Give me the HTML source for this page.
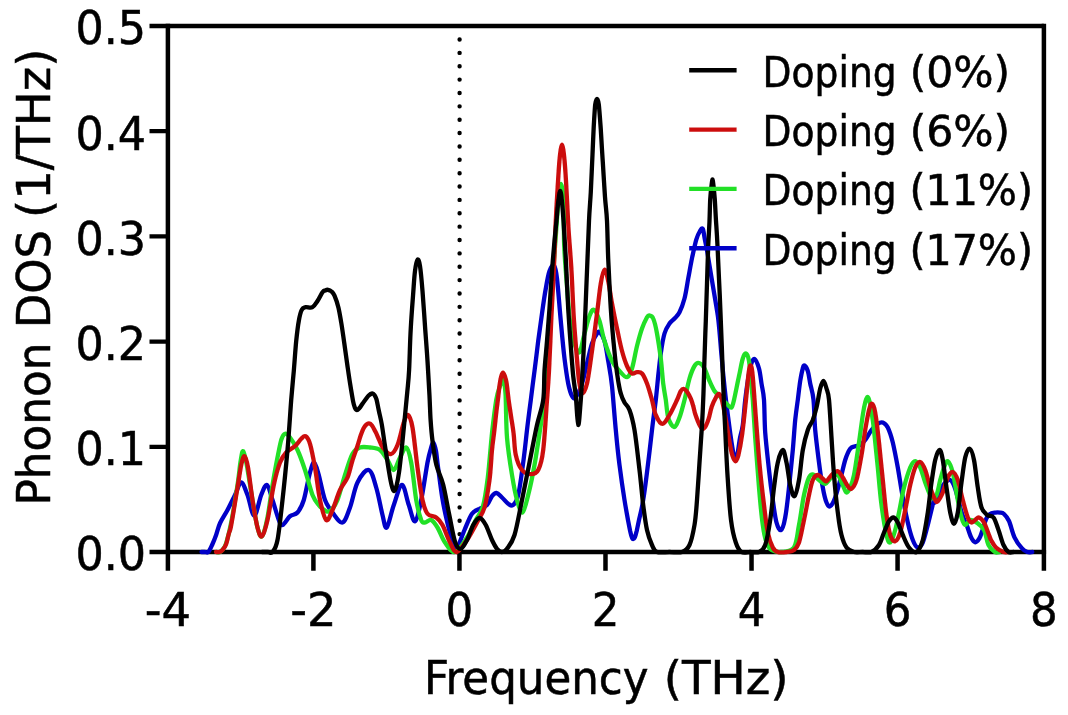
<!DOCTYPE html>
<html lang="en"><head><meta charset="utf-8"><title>Phonon DOS</title>
<style>html,body{margin:0;padding:0;background:#fff}body{width:1068px;height:715px;overflow:hidden}svg{display:block}text{fill:#000;stroke:#000;stroke-width:0.5px}</style></head><body>
<svg width="1068" height="715" viewBox="0 0 1068 715" font-family="'DejaVu Sans Condensed', 'DejaVu Sans', 'Liberation Sans', sans-serif" font-stretch="condensed">
<defs><filter id="soft" x="0" y="0" width="1068" height="715" filterUnits="userSpaceOnUse"><feGaussianBlur stdDeviation="0.45"/></filter></defs>
<rect width="1068" height="715" fill="#fff"/>
<g filter="url(#soft)">
<line x1="459.6" y1="39.5" x2="459.6" y2="552.00" stroke="#000" stroke-width="4.4" stroke-dasharray="0.01 13.357" stroke-linecap="round"/>
<path d="M149.5,26.0H1043.9M149.5,552.0H1046.1" fill="none" stroke="#000" stroke-width="4.3"/>
<path d="M167.9,23.85V570.7M1043.9,23.85V570.7" fill="none" stroke="#000" stroke-width="4.5"/>
<path d="M149.5,446.80H167.9M149.5,341.60H167.9M149.5,236.40H167.9M149.5,131.20H167.9" stroke="#000" stroke-width="4.3" fill="none"/>
<path d="M313.41,552.0V570.7M459.45,552.0V570.7M605.49,552.0V570.7M751.53,552.0V570.7M897.57,552.0V570.7" stroke="#000" stroke-width="4.5" fill="none"/>
<path d="M201.5,552.0C202.1,552.0 203.8,552.0 205.0,552.0C206.2,552.0 207.2,553.2 208.4,552.0C209.6,550.8 211.0,547.4 212.3,544.5C213.6,541.6 214.9,538.3 216.2,534.7C217.5,531.1 218.2,527.1 220.1,523.0C222.0,518.9 225.0,514.7 227.5,510.0C230.0,505.3 232.7,499.6 235.0,495.0C237.3,490.4 239.2,482.5 241.2,482.5C243.3,482.5 245.3,489.5 247.5,495.0C249.7,500.5 252.0,515.8 254.2,515.8C256.5,515.8 259.1,500.1 261.2,495.0C263.4,489.9 265.1,484.2 267.0,485.0C268.9,485.8 270.5,494.2 272.5,500.0C274.5,505.8 277.1,515.8 278.8,520.0C280.4,524.2 280.6,525.6 282.5,525.0C284.4,524.4 287.5,518.3 290.0,516.2C292.5,514.2 295.2,515.2 297.5,512.5C299.8,509.8 301.7,506.7 303.8,500.0C305.8,493.3 308.2,478.8 310.0,472.5C311.8,466.2 312.8,462.1 314.2,462.5C315.7,462.9 317.0,468.8 318.8,475.0C320.5,481.2 322.7,493.8 325.0,500.0C327.3,506.2 329.6,508.8 332.5,512.5C335.4,516.2 339.6,523.3 342.5,522.5C345.4,521.7 347.5,514.2 350.0,507.5C352.5,500.8 354.4,488.8 357.5,482.5C360.6,476.2 365.6,469.2 368.8,470.0C371.9,470.8 374.0,480.0 376.2,487.5C378.5,495.0 380.8,508.3 382.5,515.0C384.2,521.7 384.9,529.2 386.8,527.5C388.6,525.8 391.2,512.1 393.8,505.0C396.3,497.9 399.5,485.0 402.0,485.0C404.5,485.0 406.6,499.0 408.8,505.0C410.9,511.0 412.9,522.1 415.0,521.2C417.1,520.4 419.2,509.8 421.2,500.0C423.3,490.2 425.9,471.0 427.5,462.5C429.1,454.0 429.8,452.1 430.8,448.8C431.8,445.4 432.6,442.2 433.5,442.6C434.4,443.0 435.2,446.9 436.0,451.0C436.8,455.1 436.9,459.2 438.0,467.0C439.1,474.8 440.8,488.8 442.3,498.0C443.8,507.2 445.4,514.5 447.2,522.0C449.0,529.5 451.4,538.7 453.0,543.0C454.6,547.3 455.1,550.2 457.0,548.0C458.9,545.8 462.0,535.7 464.5,530.0C467.0,524.3 469.5,517.3 472.0,513.8C474.5,510.2 477.0,510.2 479.5,508.8C482.0,507.3 484.9,507.1 487.0,505.0C489.1,502.9 490.4,498.2 492.0,496.2C493.6,494.2 494.8,492.8 496.5,493.0C498.2,493.2 500.0,495.7 502.0,497.5C504.0,499.3 506.4,502.5 508.2,503.8C510.1,505.0 511.6,506.5 513.2,505.0C514.9,503.5 516.6,502.1 518.2,495.0C519.9,487.9 521.8,473.3 523.2,462.5C524.7,451.7 525.8,440.4 527.0,430.0C528.2,419.6 529.5,409.8 530.8,400.0C532.0,390.2 533.2,380.8 534.5,371.0C535.8,361.2 537.0,350.6 538.2,341.0C539.5,331.4 540.8,322.2 542.0,313.5C543.2,304.8 544.5,295.6 545.8,288.5C547.0,281.4 548.1,274.8 549.5,271.0C550.9,267.2 552.8,264.2 554.0,265.5C555.2,266.8 555.9,269.2 557.0,278.5C558.1,287.8 559.5,307.7 560.8,321.0C562.0,334.3 563.2,348.1 564.5,358.5C565.8,368.9 567.0,377.2 568.2,383.5C569.5,389.8 570.8,393.7 572.0,396.0C573.2,398.3 574.1,399.3 575.8,397.2C577.4,395.2 580.1,389.1 582.0,383.5C583.9,377.9 585.3,370.2 587.0,363.5C588.7,356.8 590.3,348.5 592.0,343.5C593.7,338.5 595.7,335.4 597.0,333.5C598.3,331.6 598.8,331.0 600.0,332.2C601.2,333.5 603.1,336.2 604.5,341.0C605.9,345.8 607.0,353.5 608.2,361.0C609.5,368.5 610.8,374.5 612.0,386.0C613.2,397.5 614.5,416.8 615.8,430.0C617.0,443.2 618.0,453.3 619.5,465.0C621.0,476.7 623.0,490.6 624.5,500.0C626.0,509.4 627.3,516.0 628.2,521.2C629.2,526.5 629.7,528.6 630.2,531.2C630.8,533.9 631.2,535.7 631.8,537.0C632.2,538.3 632.7,539.0 633.2,539.0C633.8,539.0 634.4,538.4 635.0,537.0C635.6,535.6 636.1,533.3 636.8,530.5C637.4,527.7 637.9,525.1 639.0,520.0C640.1,514.9 641.7,509.6 643.2,500.0C644.8,490.4 646.8,474.2 648.2,462.5C649.7,450.8 650.8,440.4 652.0,430.0C653.2,419.6 654.7,409.0 655.8,400.0C656.8,391.0 657.4,383.8 658.2,376.0C659.1,368.2 659.7,360.6 660.8,353.5C661.8,346.4 663.0,338.5 664.5,333.5C666.0,328.5 667.8,326.0 669.5,323.5C671.2,321.0 672.8,320.4 674.5,318.5C676.2,316.6 677.8,315.6 679.5,312.2C681.2,308.9 683.0,304.1 684.5,298.5C686.0,292.9 687.0,285.4 688.2,278.5C689.5,271.6 690.9,263.7 692.2,257.2C693.6,250.8 695.0,244.1 696.2,239.8C697.5,235.4 698.9,232.8 700.0,231.0C701.1,229.2 702.0,227.5 702.8,228.8C703.5,230.0 704.0,234.7 704.7,238.5C705.4,242.3 706.4,246.9 707.2,251.5C708.0,256.1 708.7,260.6 709.6,266.0C710.5,271.4 711.5,277.7 712.5,283.6C713.5,289.5 714.6,295.7 715.5,301.3C716.4,306.9 717.3,311.4 718.0,317.0C718.7,322.6 719.3,329.2 719.8,335.0C720.3,340.8 720.7,345.8 721.2,352.0C721.7,358.2 722.3,364.7 723.0,372.0C723.7,379.3 724.6,388.0 725.5,396.0C726.4,404.0 727.5,412.3 728.5,420.0C729.5,427.7 730.6,436.3 731.5,442.0C732.4,447.7 732.9,451.2 733.6,454.0C734.3,456.8 734.9,458.5 735.5,458.5C736.1,458.5 736.8,457.4 737.5,454.0C738.2,450.6 739.1,442.8 740.0,438.0C740.9,433.2 741.9,431.3 742.8,425.0C743.6,418.7 744.4,407.3 745.2,400.0C746.1,392.7 746.8,386.9 747.8,381.0C748.7,375.1 749.9,368.4 751.0,364.8C752.1,361.1 753.2,358.4 754.5,359.0C755.8,359.6 757.8,364.4 759.0,368.5C760.2,372.6 760.7,378.3 761.5,383.5C762.3,388.7 763.4,391.6 764.0,399.8C764.6,407.9 764.4,420.8 765.2,432.5C766.1,444.2 767.8,458.8 769.0,470.0C770.2,481.2 771.5,491.2 772.8,500.0C774.0,508.8 775.1,517.5 776.5,522.5C777.9,527.5 779.5,530.8 781.0,530.0C782.5,529.2 783.9,524.6 785.2,517.5C786.6,510.4 787.8,498.8 789.0,487.5C790.2,476.2 791.7,461.2 792.8,450.0C793.8,438.8 794.4,428.3 795.2,420.0C796.1,411.7 796.9,406.5 797.8,400.0C798.6,393.5 799.4,386.2 800.2,381.0C801.1,375.8 802.0,371.1 802.8,368.5C803.5,365.9 803.7,365.1 804.5,365.5C805.3,365.9 806.8,368.0 807.8,371.0C808.7,374.0 809.3,378.7 810.2,383.5C811.2,388.3 812.7,392.0 813.5,399.8C814.3,407.5 814.3,419.5 815.2,430.0C816.2,440.5 817.8,452.9 819.0,462.5C820.2,472.1 821.5,480.8 822.8,487.5C824.0,494.2 825.2,499.4 826.5,502.5C827.8,505.6 828.8,507.1 830.2,506.2C831.7,505.4 833.6,501.9 835.2,497.5C836.9,493.1 838.6,486.2 840.2,480.0C841.9,473.8 843.6,465.2 845.2,460.0C846.9,454.8 848.6,451.0 850.2,448.8C851.9,446.5 853.6,446.9 855.2,446.2C856.9,445.6 858.6,446.0 860.2,445.0C861.9,444.0 863.4,442.5 865.2,440.0C867.1,437.5 869.4,432.7 871.5,430.0C873.6,427.3 875.9,425.0 877.8,423.8C879.6,422.5 881.1,421.9 882.8,422.5C884.4,423.1 886.1,424.2 887.8,427.5C889.4,430.8 891.1,435.8 892.8,442.5C894.4,449.2 896.1,458.3 897.8,467.5C899.4,476.7 901.1,488.3 902.8,497.5C904.4,506.7 906.1,515.4 907.8,522.5C909.4,529.6 911.1,535.8 912.8,540.0C914.4,544.2 916.1,547.1 917.8,547.5C919.4,547.9 921.1,546.2 922.8,542.5C924.4,538.8 925.9,532.1 927.8,525.0C929.6,517.9 932.9,503.7 934.0,500.0C935.1,496.3 933.5,504.4 934.5,502.7C935.5,501.0 938.5,493.0 940.0,490.0C941.5,487.0 942.3,486.0 943.5,484.5C944.7,483.0 945.9,481.8 947.0,481.0C948.1,480.2 949.2,479.7 950.2,480.0C951.2,480.3 952.0,481.6 952.8,483.0C953.6,484.4 954.3,486.1 955.2,488.7C956.1,491.3 957.0,494.9 958.0,498.5C959.0,502.1 960.1,507.1 961.1,510.5C962.1,513.9 963.0,516.5 964.0,519.0C965.0,521.5 965.7,522.6 966.9,525.6C968.1,528.6 969.7,534.5 971.1,537.3C972.5,540.1 973.9,542.1 975.3,542.3C976.7,542.4 978.2,540.4 979.5,538.2C980.8,536.0 981.8,532.1 982.9,528.9C984.0,525.7 985.1,521.3 986.2,518.9C987.3,516.5 988.1,515.2 989.6,514.2C991.1,513.2 993.8,512.9 995.5,512.6C997.2,512.3 998.6,512.4 1000.0,512.6C1001.4,512.8 1002.5,512.6 1004.0,514.0C1005.5,515.4 1007.2,517.1 1009.0,521.0C1010.8,524.9 1012.4,532.8 1014.5,537.3C1016.6,541.8 1019.7,545.8 1021.8,548.2C1023.9,550.7 1025.5,551.4 1027.3,552.0C1029.0,552.6 1031.5,552.0 1032.3,552.0" fill="none" stroke="#0606c8" stroke-width="4.3" stroke-linejoin="round" stroke-linecap="round"/>
<path d="M216.5,552.0C217.1,552.0 218.8,552.6 220.0,552.0C221.2,551.4 222.4,550.2 223.5,548.5C224.6,546.8 225.2,546.3 226.5,542.0C227.8,537.7 229.4,532.0 231.2,522.5C233.1,513.0 235.9,495.4 237.5,485.0C239.1,474.6 239.8,465.6 240.8,460.0C241.7,454.4 242.2,450.4 243.2,451.2C244.2,452.1 245.2,456.9 246.8,465.0C248.3,473.1 250.7,489.6 252.5,500.0C254.3,510.4 255.9,521.5 257.5,527.5C259.1,533.5 260.3,537.9 262.0,536.2C263.7,534.6 265.8,526.0 267.5,517.5C269.2,509.0 270.8,495.0 272.5,485.0C274.2,475.0 276.0,465.0 277.5,457.5C279.0,450.0 280.0,444.0 281.2,440.0C282.5,436.0 283.5,434.2 285.0,433.8C286.5,433.3 287.9,434.8 290.0,437.5C292.1,440.2 295.0,444.6 297.5,450.0C300.0,455.4 302.5,462.5 305.0,470.0C307.5,477.5 310.2,489.2 312.5,495.0C314.8,500.8 316.5,502.3 318.8,505.0C321.0,507.7 324.2,510.4 326.2,511.2C328.3,512.1 329.4,511.9 331.2,510.0C333.1,508.1 335.2,505.8 337.5,500.0C339.8,494.2 342.5,482.7 345.0,475.0C347.5,467.3 350.0,458.3 352.5,453.8C355.0,449.2 357.1,448.5 360.0,447.5C362.9,446.5 366.7,447.1 370.0,447.5C373.3,447.9 377.1,447.9 380.0,450.0C382.9,452.1 385.2,456.7 387.5,460.0C389.8,463.3 391.7,470.4 393.8,470.0C395.8,469.6 397.9,461.2 400.0,457.5C402.1,453.8 404.4,446.7 406.2,447.5C408.1,448.3 409.6,453.8 411.2,462.5C412.9,471.2 414.6,490.4 416.2,500.0C417.9,509.6 419.8,516.2 421.2,520.0C422.7,523.8 423.3,522.5 425.0,522.5C426.7,522.5 429.2,519.2 431.2,520.0C433.3,520.8 435.2,523.8 437.5,527.5C439.8,531.2 442.1,538.4 445.0,542.5C447.9,546.6 451.3,552.8 455.0,552.0C458.7,551.2 463.5,542.8 467.0,537.5C470.5,532.2 473.1,525.2 475.8,520.0C478.4,514.8 481.0,513.3 483.0,506.2C485.0,499.2 486.2,490.0 487.8,477.5C489.3,465.0 490.8,444.2 492.2,431.2C493.7,418.3 495.0,407.5 496.2,400.0C497.5,392.5 498.9,389.4 500.0,386.0C501.1,382.6 502.1,378.2 503.0,379.5C503.9,380.8 504.8,383.8 505.5,393.5C506.2,403.2 505.9,423.9 507.0,437.5C508.1,451.1 510.3,464.6 512.0,475.0C513.7,485.4 515.2,493.8 517.0,500.0C518.8,506.2 520.6,513.3 522.5,512.5C524.4,511.7 526.2,502.9 528.2,495.0C530.2,487.1 532.4,476.7 534.5,465.0C536.6,453.3 539.1,435.8 540.8,425.0C542.4,414.2 543.7,409.0 544.5,400.0C545.3,391.0 545.1,380.8 545.8,371.0C546.4,361.2 547.4,351.4 548.2,341.0C549.1,330.6 549.9,320.2 550.8,308.5C551.6,296.8 552.4,283.1 553.2,271.0C554.1,258.9 554.9,247.8 555.8,236.0C556.6,224.2 557.6,208.7 558.5,200.0C559.4,191.3 560.2,184.0 561.0,184.0C561.8,184.0 563.0,189.7 563.5,200.0C564.0,210.3 563.7,232.1 564.2,246.0C564.8,259.9 565.8,271.0 566.8,283.5C567.7,296.0 568.7,311.0 570.0,321.0C571.3,331.0 572.9,338.3 574.5,343.5C576.1,348.7 577.8,353.9 579.5,352.2C581.2,350.6 582.8,339.5 584.5,333.5C586.2,327.5 587.9,320.0 589.5,316.0C591.1,312.0 592.3,308.9 594.0,309.8C595.7,310.6 597.8,315.8 599.5,321.0C601.2,326.2 602.4,334.3 604.5,341.0C606.6,347.7 609.5,356.0 612.0,361.0C614.5,366.0 617.0,368.3 619.5,371.0C622.0,373.7 624.9,377.7 627.0,377.2C629.1,376.8 630.3,373.7 632.0,368.5C633.7,363.3 635.3,352.7 637.0,346.0C638.7,339.3 640.3,333.3 642.0,328.5C643.7,323.7 645.8,319.4 647.0,317.2C648.2,315.1 648.5,315.3 649.5,315.5C650.5,315.7 652.0,315.5 653.2,318.5C654.5,321.5 655.8,326.8 657.0,333.5C658.2,340.2 659.7,350.2 660.8,358.5C661.8,366.8 662.4,376.6 663.2,383.5C664.1,390.4 664.9,394.1 665.8,399.8C666.6,405.4 666.9,413.0 668.2,417.5C669.6,422.0 672.1,427.0 674.0,427.0C675.9,427.0 677.8,422.0 679.5,417.5C681.2,413.0 682.8,406.5 684.5,400.0C686.2,393.5 687.8,384.2 689.5,378.5C691.2,372.8 692.9,368.6 694.5,366.0C696.1,363.4 697.3,362.6 699.0,363.0C700.7,363.4 702.8,365.5 704.5,368.5C706.2,371.5 707.8,377.2 709.5,381.0C711.2,384.8 712.8,388.5 714.5,391.0C716.2,393.5 717.3,393.7 719.5,396.0C721.7,398.3 725.8,403.1 727.8,405.0C729.8,406.9 730.5,408.3 731.5,407.5C732.5,406.7 732.8,405.2 734.0,400.0C735.2,394.8 737.5,382.9 739.0,376.0C740.5,369.1 741.6,362.2 742.8,358.5C743.9,354.8 745.0,353.1 746.0,353.5C747.0,353.9 748.2,356.4 749.0,361.0C749.8,365.6 750.4,374.5 751.0,381.0C751.6,387.5 752.0,390.3 752.8,399.8C753.5,409.2 754.2,422.9 755.2,437.5C756.3,452.1 757.8,472.9 759.0,487.5C760.2,502.1 761.5,515.8 762.8,525.0C764.0,534.2 765.0,538.3 766.5,542.5C768.0,546.7 769.0,548.4 771.5,550.0C774.0,551.6 777.8,552.4 781.5,552.0C785.2,551.6 791.1,552.0 794.0,547.5C796.9,543.0 797.3,533.8 799.0,525.0C800.7,516.2 802.3,502.9 804.0,495.0C805.7,487.1 807.4,480.9 809.0,477.5C810.6,474.1 811.8,474.1 813.5,474.5C815.2,474.9 817.0,478.5 819.0,480.0C821.0,481.5 823.2,484.2 825.2,483.8C827.3,483.3 829.4,479.0 831.5,477.5C833.6,476.0 835.9,473.8 837.8,475.0C839.6,476.2 841.3,482.1 842.8,485.0C844.2,487.9 845.2,492.1 846.5,492.5C847.8,492.9 849.0,490.4 850.2,487.5C851.5,484.6 852.5,482.5 854.0,475.0C855.5,467.5 857.5,452.5 859.0,442.5C860.5,432.5 861.7,421.8 862.8,415.0C863.8,408.2 864.5,405.0 865.3,402.0C866.1,399.0 866.6,397.2 867.3,397.0C868.0,396.8 868.6,398.0 869.3,400.5C870.0,403.0 870.7,407.1 871.5,412.0C872.3,416.9 873.0,420.8 874.0,430.0C875.0,439.2 876.5,455.0 877.8,467.5C879.0,480.0 880.0,493.8 881.5,505.0C883.0,516.2 885.0,528.8 886.5,535.0C888.0,541.2 888.8,543.3 890.2,542.5C891.7,541.7 893.8,535.0 895.2,530.0C896.7,525.0 897.5,519.6 899.0,512.5C900.5,505.4 902.1,495.0 904.0,487.5C905.9,480.0 908.4,471.9 910.2,467.5C912.1,463.1 913.6,461.2 915.2,461.2C916.9,461.2 918.6,464.0 920.2,467.5C921.9,471.0 923.4,477.5 925.2,482.5C927.1,487.5 929.6,495.4 931.5,497.5C933.4,499.6 935.0,497.9 936.5,495.0C938.0,492.1 939.0,484.6 940.2,480.0C941.5,475.4 942.8,470.6 944.0,467.5C945.2,464.4 946.3,460.4 947.8,461.2C949.2,462.1 951.1,466.0 952.8,472.5C954.4,479.0 956.3,492.5 957.8,500.0C959.2,507.5 960.2,513.3 961.5,517.5C962.8,521.7 963.8,524.6 965.2,525.0C966.7,525.4 968.4,520.4 970.2,520.0C972.1,519.6 974.2,520.8 976.5,522.5C978.8,524.2 982.0,526.2 984.0,530.0C986.0,533.8 986.7,541.3 988.5,545.0C990.3,548.7 992.9,550.8 994.8,552.0C996.6,553.2 998.9,552.0 999.8,552.0" fill="none" stroke="#20e028" stroke-width="4.3" stroke-linejoin="round" stroke-linecap="round"/>
<path d="M216.0,552.0C216.6,552.0 218.4,552.3 219.5,552.0C220.6,551.7 221.4,551.2 222.5,550.0C223.6,548.8 224.9,547.3 226.0,544.5C227.1,541.7 228.1,536.2 229.0,533.0C229.9,529.8 229.8,532.6 231.2,525.0C232.7,517.4 235.8,497.5 237.5,487.5C239.2,477.5 240.1,470.2 241.2,465.0C242.4,459.8 243.4,455.8 244.5,456.2C245.6,456.7 246.7,460.2 248.0,467.5C249.3,474.8 250.9,490.0 252.5,500.0C254.1,510.0 255.9,521.5 257.5,527.5C259.1,533.5 260.3,537.5 262.0,536.2C263.7,535.0 265.5,528.5 267.5,520.0C269.5,511.5 271.7,494.6 273.8,485.0C275.8,475.4 277.9,467.9 280.0,462.5C282.1,457.1 283.8,455.2 286.2,452.5C288.8,449.8 292.5,448.5 295.0,446.2C297.5,444.0 299.5,440.4 301.2,438.8C303.0,437.1 304.0,435.4 305.5,436.2C307.0,437.1 308.4,438.5 310.0,443.8C311.6,449.0 313.3,458.1 315.0,467.5C316.7,476.9 318.1,491.2 320.0,500.0C321.9,508.8 324.2,518.3 326.2,520.0C328.3,521.7 330.2,515.0 332.5,510.0C334.8,505.0 337.5,495.4 340.0,490.0C342.5,484.6 345.5,482.2 347.5,477.5C349.5,472.8 350.4,467.2 352.0,462.0C353.6,456.8 355.8,451.0 357.3,446.4C358.8,441.8 359.9,437.5 361.0,434.5C362.1,431.5 362.7,429.8 363.6,428.2C364.5,426.6 365.4,425.4 366.3,424.6C367.2,423.8 368.2,423.2 369.1,423.4C370.1,423.5 370.9,424.1 372.0,425.5C373.1,426.9 374.3,429.5 375.5,431.8C376.7,434.1 377.8,436.9 379.0,439.5C380.2,442.1 380.7,444.8 382.7,447.3C384.7,449.8 388.3,454.6 390.8,454.2C393.2,453.9 395.3,450.3 397.5,445.0C399.7,439.7 402.0,427.5 403.8,422.5C405.5,417.5 406.5,414.2 408.0,415.0C409.5,415.8 410.9,418.8 412.5,427.5C414.1,436.2 415.8,455.4 417.5,467.5C419.2,479.6 420.8,492.3 422.5,500.0C424.2,507.7 425.2,510.8 427.5,513.8C429.8,516.7 433.8,515.6 436.2,517.5C438.8,519.4 440.2,520.8 442.5,525.0C444.8,529.2 447.6,538.0 450.0,542.5C452.4,547.0 453.9,552.4 456.8,552.0C459.6,551.6 463.6,544.9 467.0,540.0C470.4,535.1 474.1,527.9 477.0,522.5C479.9,517.1 482.4,514.6 484.5,507.5C486.6,500.4 488.2,489.6 489.5,480.0C490.8,470.4 491.2,457.8 492.0,450.0C492.8,442.2 493.3,439.2 494.0,433.4C494.7,427.6 495.4,420.6 496.0,415.0C496.6,409.4 497.2,405.1 497.9,399.8C498.5,394.5 499.3,387.0 499.9,383.0C500.5,379.0 500.8,377.7 501.3,376.0C501.8,374.3 502.4,372.6 503.0,372.6C503.6,372.6 504.2,374.3 504.8,376.0C505.4,377.7 506.0,379.0 506.6,383.0C507.2,387.0 507.9,394.3 508.6,399.8C509.3,405.3 510.2,410.4 511.0,416.0C511.8,421.6 512.8,426.9 513.6,433.4C514.4,439.9 514.4,448.9 515.8,455.0C517.1,461.1 519.5,466.8 522.0,470.0C524.5,473.2 528.0,474.2 530.8,474.2C533.5,474.2 536.2,474.0 538.2,470.0C540.3,466.0 541.8,461.7 543.2,450.0C544.7,438.3 546.0,413.2 547.0,400.0C548.0,386.8 548.3,384.2 549.0,371.0C549.7,357.8 550.5,337.7 551.2,321.0C552.0,304.3 553.0,286.7 553.8,271.0C554.5,255.3 554.9,240.5 555.5,227.0C556.1,213.5 556.8,201.2 557.5,190.0C558.2,178.8 558.8,167.6 559.5,160.0C560.2,152.4 561.2,144.6 562.0,144.6C562.8,144.6 563.8,152.4 564.5,160.0C565.2,167.6 565.9,178.8 566.5,190.0C567.1,201.2 567.6,213.5 568.4,227.0C569.2,240.5 570.6,255.3 571.5,271.0C572.4,286.7 572.9,304.3 574.0,321.0C575.1,337.7 577.1,360.6 578.0,371.0C578.9,381.4 578.8,379.8 579.5,383.5C580.2,387.2 580.8,393.5 582.0,393.5C583.2,393.5 585.3,390.6 587.0,383.5C588.7,376.4 590.3,362.7 592.0,351.0C593.7,339.3 595.5,324.8 597.0,313.5C598.5,302.2 599.5,290.8 600.8,283.5C602.0,276.2 603.2,270.2 604.5,269.8C605.8,269.3 607.0,275.4 608.2,281.0C609.5,286.6 610.5,295.6 612.0,303.5C613.5,311.4 615.3,320.6 617.0,328.5C618.7,336.4 620.3,344.8 622.0,351.0C623.7,357.2 625.3,362.2 627.0,366.0C628.7,369.8 630.3,372.5 632.0,373.5C633.7,374.5 635.3,372.2 637.0,372.2C638.7,372.2 640.3,371.6 642.0,373.5C643.7,375.4 645.3,379.1 647.0,383.5C648.7,387.9 650.5,394.5 652.0,399.8C653.5,405.0 654.0,411.0 655.8,415.0C657.5,419.0 660.2,423.8 662.5,423.8C664.8,423.8 667.1,419.0 669.5,415.0C671.9,411.0 675.1,404.0 677.0,400.0C678.9,396.0 679.6,392.8 680.8,391.0C681.9,389.2 682.9,388.8 684.0,389.0C685.1,389.2 686.4,390.9 687.5,392.5C688.6,394.1 689.8,396.4 690.8,398.6C691.8,400.9 692.5,403.4 693.2,406.0C694.0,408.6 694.2,411.0 695.3,414.2C696.4,417.4 698.5,423.0 699.8,425.4C701.1,427.8 702.1,428.8 703.1,428.8C704.1,428.8 705.1,427.2 706.0,425.5C706.9,423.8 707.7,421.9 708.7,418.7C709.7,415.5 710.6,410.0 711.8,406.5C713.0,403.0 714.6,399.8 715.8,397.7C716.9,395.6 717.7,393.6 718.7,393.8C719.7,394.0 720.5,394.7 721.6,398.7C722.7,402.7 724.2,410.8 725.5,418.0C726.8,425.2 728.4,435.6 729.5,441.8C730.6,448.1 731.4,452.2 732.4,455.5C733.4,458.8 734.3,461.3 735.3,461.3C736.3,461.3 737.1,460.1 738.3,455.5C739.4,450.9 740.9,443.5 742.2,434.0C743.5,424.5 745.1,408.5 746.1,398.7C747.1,388.9 747.7,380.6 748.4,375.0C749.1,369.4 749.7,365.4 750.4,365.4C751.1,365.4 751.7,366.2 752.6,375.0C753.5,383.8 754.7,403.0 755.9,418.3C757.1,433.6 758.4,452.6 759.8,467.0C761.1,481.4 762.7,494.1 764.0,505.0C765.3,515.9 766.3,525.4 767.8,532.5C769.2,539.6 771.1,544.2 772.8,547.5C774.4,550.8 775.5,551.2 777.8,552.0C780.0,552.8 783.8,552.3 786.5,552.0C789.2,551.7 791.9,551.6 794.0,550.0C796.1,548.4 797.3,547.5 799.0,542.5C800.7,537.5 802.3,527.9 804.0,520.0C805.7,512.1 807.5,501.7 809.0,495.0C810.5,488.3 811.3,483.3 812.8,480.0C814.2,476.7 816.1,475.2 817.8,475.0C819.4,474.8 821.3,477.7 822.8,478.8C824.2,479.8 825.0,481.9 826.5,481.2C828.0,480.6 829.6,476.7 831.5,475.0C833.4,473.3 835.9,470.8 837.8,471.2C839.6,471.7 841.1,475.0 842.8,477.5C844.4,480.0 846.3,484.4 847.8,486.2C849.2,488.1 850.0,489.8 851.5,488.8C853.0,487.7 854.8,485.6 856.5,480.0C858.2,474.4 860.0,463.3 861.5,455.0C863.0,446.7 864.0,437.5 865.2,430.0C866.5,422.5 867.9,414.4 869.0,410.0C870.1,405.6 871.0,403.3 872.0,403.8C873.0,404.2 874.1,406.0 875.2,412.5C876.4,419.0 877.8,431.2 879.0,442.5C880.2,453.8 881.5,467.9 882.8,480.0C884.0,492.1 885.2,505.8 886.5,515.0C887.8,524.2 888.8,530.6 890.2,535.0C891.7,539.4 893.6,541.7 895.2,541.2C896.9,540.8 898.6,537.7 900.2,532.5C901.9,527.3 903.6,517.9 905.2,510.0C906.9,502.1 908.6,492.1 910.2,485.0C911.9,477.9 913.6,471.3 915.2,467.5C916.9,463.7 918.6,461.6 920.2,462.0C921.9,462.4 923.6,465.8 925.2,470.0C926.9,474.2 928.6,482.5 930.2,487.5C931.9,492.5 934.0,497.7 935.2,500.0C936.5,502.3 936.5,502.5 937.8,501.2C939.0,500.0 941.1,496.5 942.8,492.5C944.4,488.5 946.1,480.9 947.8,477.5C949.4,474.1 951.1,471.6 952.8,472.0C954.4,472.4 956.1,475.3 957.8,480.0C959.4,484.7 961.1,493.8 962.8,500.0C964.4,506.2 966.3,513.8 967.8,517.5C969.2,521.2 970.2,522.1 971.5,522.5C972.8,522.9 974.0,520.8 975.2,520.0C976.5,519.2 977.5,517.1 979.0,517.5C980.5,517.9 982.3,519.6 984.0,522.5C985.7,525.4 987.8,532.1 989.0,535.0C990.2,537.9 989.8,537.9 991.0,540.0C992.2,542.1 993.9,545.5 996.0,547.5C998.1,549.5 1001.4,551.2 1003.5,552.0C1005.6,552.8 1007.7,552.0 1008.5,552.0" fill="none" stroke="#cc0e0e" stroke-width="4.3" stroke-linejoin="round" stroke-linecap="round"/>
<path d="M262.0,552.0C263.0,552.0 266.2,552.0 268.0,552.0C269.8,552.0 270.9,554.0 272.5,552.0C274.1,550.0 275.8,548.7 277.5,540.0C279.2,531.3 280.8,515.0 282.5,500.0C284.2,485.0 286.0,466.7 287.5,450.0C289.0,433.3 290.2,413.2 291.2,400.0C292.3,386.8 292.9,380.8 293.8,371.0C294.6,361.2 295.4,349.3 296.2,341.0C297.1,332.7 297.8,326.2 298.8,321.0C299.7,315.8 300.6,312.0 301.8,309.8C302.9,307.5 303.7,307.7 305.5,307.2C307.3,306.8 310.5,308.3 312.5,307.2C314.5,306.2 315.8,303.5 317.5,301.0C319.2,298.5 321.2,294.0 322.5,292.2C323.8,290.5 324.1,290.9 325.0,290.5C325.9,290.1 326.9,289.6 328.0,289.8C329.1,290.0 330.4,290.5 331.5,291.5C332.6,292.5 333.4,293.1 334.5,295.7C335.6,298.3 337.3,302.8 338.4,307.4C339.5,311.9 340.3,317.1 341.3,323.0C342.3,328.9 343.2,335.8 344.2,342.6C345.2,349.5 346.2,357.2 347.2,364.1C348.2,371.0 349.1,377.5 350.1,383.7C351.1,389.9 352.3,397.2 353.1,401.3C353.9,405.4 354.4,406.5 355.0,408.0C355.6,409.5 356.2,410.1 357.0,410.1C357.8,410.1 358.5,409.1 359.5,408.0C360.5,406.9 361.3,405.4 362.8,403.3C364.3,401.2 367.1,397.1 368.7,395.5C370.3,393.9 371.2,393.6 372.2,393.5C373.2,393.4 373.9,394.2 374.6,395.2C375.3,396.2 375.8,396.8 376.5,399.4C377.2,402.0 378.0,406.8 378.9,411.0C379.8,415.2 380.9,419.2 381.8,424.5C382.7,429.8 383.6,436.6 384.5,442.7C385.4,448.8 386.4,455.1 387.3,460.9C388.2,466.7 389.2,472.9 390.0,477.3C390.8,481.7 391.5,485.0 392.2,487.3C392.9,489.6 393.3,491.1 394.0,491.0C394.7,490.9 395.5,489.6 396.4,486.4C397.2,483.2 398.2,478.2 399.1,471.8C400.0,465.4 400.9,456.7 401.8,448.2C402.7,439.7 403.6,430.3 404.5,420.9C405.4,411.5 406.5,400.3 407.3,391.8C408.1,383.3 408.6,379.7 409.1,370.0C409.6,360.3 409.9,345.8 410.5,333.5C411.1,321.2 412.2,306.4 413.0,296.0C413.8,285.6 414.2,277.0 415.0,271.0C415.8,265.0 416.7,260.6 417.5,259.8C418.3,258.9 419.2,260.8 420.0,266.0C420.8,271.2 421.7,281.0 422.5,291.0C423.3,301.0 424.2,314.3 425.0,326.0C425.8,337.7 426.8,349.3 427.5,361.0C428.2,372.7 429.0,386.2 429.5,396.0C430.0,405.8 430.1,412.4 430.6,420.0C431.1,427.6 431.6,434.1 432.6,441.6C433.6,449.1 434.6,457.8 436.4,465.0C438.2,472.2 441.1,476.5 443.2,484.7C445.3,492.9 447.1,504.5 449.1,514.0C451.1,523.5 453.1,535.8 455.0,541.6C456.9,547.4 458.8,549.0 460.8,548.8C462.8,548.5 464.9,544.0 467.0,540.0C469.1,536.0 471.2,528.7 473.2,525.0C475.3,521.3 477.4,518.0 479.5,518.0C481.6,518.0 483.7,521.3 485.8,525.0C487.8,528.7 490.1,536.0 492.0,540.0C493.9,544.0 495.3,546.8 497.0,548.8C498.7,550.8 500.3,552.0 502.0,552.0C503.7,552.0 504.9,551.6 507.0,548.8C509.1,545.9 512.0,543.1 514.5,535.0C517.0,526.9 519.5,512.1 522.0,500.0C524.5,487.9 527.0,475.0 529.5,462.5C532.0,450.0 534.7,435.4 537.0,425.0C539.3,414.6 542.0,409.0 543.2,400.0C544.5,391.0 543.9,380.8 544.5,371.0C545.1,361.2 546.2,351.4 547.0,341.0C547.8,330.6 548.7,320.2 549.5,308.5C550.3,296.8 551.2,282.2 552.0,271.0C552.8,259.8 553.8,249.4 554.5,241.0C555.2,232.6 555.9,227.2 556.5,220.8C557.1,214.2 557.6,207.0 558.2,202.0C558.9,197.0 559.6,190.8 560.2,190.8C560.9,190.8 561.5,197.0 562.0,202.0C562.5,207.0 562.9,211.3 563.5,220.8C564.1,230.2 565.0,243.9 565.8,258.5C566.5,273.1 567.4,293.9 568.2,308.5C569.1,323.1 569.9,334.8 570.8,346.0C571.6,357.2 572.4,367.7 573.2,376.0C574.1,384.3 574.9,387.8 575.8,396.0C576.6,404.2 577.4,424.4 578.2,425.0C579.1,425.6 579.9,410.8 580.8,399.8C581.6,388.7 582.5,371.6 583.2,358.5C584.0,345.4 584.4,335.6 585.0,321.0C585.6,306.4 586.3,287.7 587.0,271.0C587.7,254.3 588.4,234.2 589.0,221.0C589.6,207.8 590.2,203.1 590.8,192.0C591.3,180.9 592.0,166.2 592.5,154.5C593.0,142.8 593.5,130.3 594.0,122.0C594.5,113.7 594.8,108.3 595.2,104.5C595.8,100.7 596.4,99.0 597.0,99.0C597.6,99.0 598.1,99.4 598.8,104.5C599.4,109.6 600.1,119.9 600.8,129.5C601.4,139.1 602.0,150.8 602.8,162.0C603.5,173.2 604.3,187.2 605.0,197.0C605.7,206.8 606.5,210.5 607.0,220.8C607.5,231.0 607.6,243.9 608.2,258.5C608.9,273.1 609.9,295.2 610.8,308.5C611.6,321.8 612.4,329.3 613.2,338.5C614.1,347.7 614.9,356.4 615.8,363.5C616.6,370.6 617.4,376.0 618.2,381.0C619.1,386.0 619.7,389.9 620.8,393.5C621.8,397.1 623.0,399.8 624.5,402.5C626.0,405.2 627.8,405.4 629.5,410.0C631.2,414.6 632.8,420.0 634.5,430.0C636.2,440.0 638.0,457.5 639.5,470.0C641.0,482.5 642.0,495.0 643.2,505.0C644.5,515.0 645.5,523.3 647.0,530.0C648.5,536.7 650.3,541.3 652.0,545.0C653.7,548.7 654.1,550.8 657.0,552.0C659.9,553.2 665.3,552.0 669.5,552.0C673.7,552.0 678.7,553.2 682.0,552.0C685.3,550.8 687.4,549.5 689.5,545.0C691.6,540.5 693.2,532.5 694.5,525.0C695.8,517.5 696.2,510.4 697.0,500.0C697.8,489.6 698.7,475.0 699.5,462.5C700.3,450.0 701.4,435.4 702.0,425.0C702.6,414.6 702.8,411.1 703.2,400.0C703.7,388.9 704.1,371.7 704.5,358.5C704.9,345.3 705.3,333.5 705.8,321.0C706.2,308.5 706.6,296.0 707.0,283.5C707.4,271.0 707.8,256.4 708.2,246.0C708.7,235.6 709.2,228.8 709.5,221.0C709.8,213.2 709.9,205.4 710.2,199.5C710.6,193.6 711.1,189.1 711.5,185.8C711.9,182.4 712.2,179.5 712.5,179.5C712.8,179.5 713.1,182.4 713.5,185.8C713.9,189.1 714.3,193.7 714.8,199.5C715.2,205.3 715.5,213.0 716.0,220.8C716.5,228.5 716.9,233.5 717.5,246.0C718.1,258.5 719.0,279.3 719.8,296.0C720.5,312.7 721.1,328.7 721.8,346.0C722.4,363.3 723.2,386.6 723.8,399.8C724.3,412.9 724.4,412.5 725.0,425.0C725.6,437.5 726.5,459.2 727.5,475.0C728.5,490.8 729.6,508.8 731.0,520.0C732.4,531.2 734.0,537.2 735.8,542.5C737.5,547.8 739.1,550.4 741.5,552.0C743.9,553.6 747.3,552.0 750.2,552.0C753.2,552.0 756.5,553.2 759.0,552.0C761.5,550.8 763.4,550.3 765.2,545.0C767.1,539.7 768.8,529.6 770.2,520.0C771.7,510.4 772.8,497.1 774.0,487.5C775.2,477.9 776.3,468.8 777.8,462.5C779.2,456.2 781.3,450.0 782.8,450.0C784.2,450.0 785.2,456.7 786.5,462.5C787.8,468.3 788.9,479.4 790.2,485.0C791.6,490.6 793.0,497.1 794.5,496.2C796.0,495.4 797.6,487.7 799.0,480.0C800.4,472.3 801.3,458.3 802.8,450.0C804.2,441.7 806.1,435.0 807.8,430.0C809.4,425.0 811.3,423.8 812.8,420.0C814.2,416.2 815.2,412.8 816.5,407.5C817.8,402.2 819.1,392.9 820.2,388.5C821.4,384.1 822.5,381.0 823.5,381.0C824.5,381.0 825.6,385.4 826.5,388.5C827.4,391.6 828.2,391.6 829.0,399.8C829.8,407.9 830.7,425.0 831.5,437.5C832.3,450.0 833.0,462.5 834.0,475.0C835.0,487.5 836.5,502.5 837.8,512.5C839.0,522.5 840.0,529.2 841.5,535.0C843.0,540.8 844.4,544.7 846.5,547.5C848.6,550.3 851.3,551.2 854.0,552.0C856.7,552.8 859.8,552.0 862.8,552.0C865.7,552.0 868.8,553.2 871.5,552.0C874.2,550.8 876.9,548.2 879.0,545.0C881.1,541.8 882.3,536.5 884.0,532.5C885.7,528.5 887.4,523.8 889.0,521.2C890.6,518.8 892.0,517.3 893.5,517.5C895.0,517.7 896.2,519.6 897.8,522.5C899.3,525.4 900.9,530.8 902.8,535.0C904.6,539.2 906.7,544.7 909.0,547.5C911.3,550.3 914.2,553.2 916.5,552.0C918.8,550.8 920.9,546.6 922.8,540.0C924.6,533.4 926.3,522.1 927.8,512.5C929.2,502.9 930.2,491.2 931.5,482.5C932.8,473.8 933.9,465.4 935.2,460.0C936.6,454.6 938.2,450.0 939.5,450.0C940.8,450.0 941.6,453.8 942.8,460.0C943.9,466.2 945.2,478.8 946.5,487.5C947.8,496.2 949.0,506.5 950.2,512.5C951.5,518.5 952.8,523.8 954.0,523.8C955.2,523.8 956.5,519.4 957.8,512.5C959.0,505.6 960.2,491.7 961.5,482.5C962.8,473.3 963.9,463.1 965.2,457.5C966.6,451.9 968.3,448.3 969.8,448.8C971.2,449.2 972.7,453.5 974.0,460.0C975.3,466.5 976.5,479.6 977.8,487.5C979.0,495.4 979.9,502.9 981.5,507.5C983.1,512.1 985.2,513.3 987.2,515.0C989.2,516.7 991.6,515.0 993.5,517.5C995.4,520.0 996.8,525.4 998.5,530.0C1000.2,534.6 1001.8,541.3 1003.5,545.0C1005.2,548.7 1006.8,550.8 1008.5,552.0C1010.2,553.2 1012.7,552.0 1013.5,552.0" fill="none" stroke="#000000" stroke-width="4.3" stroke-linejoin="round" stroke-linecap="round"/>
<line x1="689.2" y1="70.2" x2="736.6" y2="70.2" stroke="#000000" stroke-width="4.4"/>
<line x1="689.2" y1="129.6" x2="736.6" y2="129.6" stroke="#cc0e0e" stroke-width="4.4"/>
<line x1="689.2" y1="188.9" x2="736.6" y2="188.9" stroke="#20e028" stroke-width="4.4"/>
<line x1="689.2" y1="248.2" x2="736.6" y2="248.2" stroke="#0606c8" stroke-width="4.4"/>
<text x="146.0" y="570.4" font-size="46.5" text-anchor="end" textLength="70.6" lengthAdjust="spacingAndGlyphs">0.0</text>
<text x="146.0" y="465.2" font-size="46.5" text-anchor="end" textLength="70.6" lengthAdjust="spacingAndGlyphs">0.1</text>
<text x="146.0" y="360.0" font-size="46.5" text-anchor="end" textLength="70.6" lengthAdjust="spacingAndGlyphs">0.2</text>
<text x="146.0" y="254.8" font-size="46.5" text-anchor="end" textLength="70.6" lengthAdjust="spacingAndGlyphs">0.3</text>
<text x="146.0" y="149.6" font-size="46.5" text-anchor="end" textLength="70.6" lengthAdjust="spacingAndGlyphs">0.4</text>
<text x="146.0" y="44.4" font-size="46.5" text-anchor="end" textLength="70.6" lengthAdjust="spacingAndGlyphs">0.5</text>
<text transform="translate(167.9,625.5) scale(1.11,1)" font-size="46.5" text-anchor="middle">-4</text>
<text transform="translate(313.4,625.5) scale(1.11,1)" font-size="46.5" text-anchor="middle">-2</text>
<text transform="translate(459.4,625.5) scale(1.04,1)" font-size="46.5" text-anchor="middle">0</text>
<text transform="translate(605.5,625.5) scale(1.04,1)" font-size="46.5" text-anchor="middle">2</text>
<text transform="translate(751.5,625.5) scale(1.04,1)" font-size="46.5" text-anchor="middle">4</text>
<text transform="translate(897.6,625.5) scale(1.04,1)" font-size="46.5" text-anchor="middle">6</text>
<text transform="translate(1043.9,625.5) scale(1.04,1)" font-size="46.5" text-anchor="middle">8</text>
<text y="693.5" font-size="46.5"><tspan x="424" textLength="224.5" lengthAdjust="spacingAndGlyphs">Frequency</tspan><tspan x="648.8" textLength="139.8" lengthAdjust="spacingAndGlyphs"> (THz)</tspan></text>
<text transform="translate(50,0) rotate(-90)" y="0" font-size="46.5"><tspan x="-505.5" textLength="163" lengthAdjust="spacingAndGlyphs">Phonon</tspan><tspan x="-342.5" textLength="112.6" lengthAdjust="spacingAndGlyphs"> DOS</tspan><tspan x="-232.8" textLength="184.2" lengthAdjust="spacingAndGlyphs"> (1/THz)</tspan></text>
<text y="86.7" font-size="42"><tspan x="762.6" textLength="134" lengthAdjust="spacingAndGlyphs">Doping</tspan><tspan x="896.2" textLength="113.8" lengthAdjust="spacingAndGlyphs"> (0%)</tspan></text>
<text y="145.9" font-size="42"><tspan x="762.6" textLength="134" lengthAdjust="spacingAndGlyphs">Doping</tspan><tspan x="896.2" textLength="113.8" lengthAdjust="spacingAndGlyphs"> (6%)</tspan></text>
<text y="205.1" font-size="42"><tspan x="762.6" textLength="134" lengthAdjust="spacingAndGlyphs">Doping</tspan><tspan x="896.3" textLength="136.8" lengthAdjust="spacingAndGlyphs"> (11%)</tspan></text>
<text y="264.7" font-size="42"><tspan x="762.6" textLength="134" lengthAdjust="spacingAndGlyphs">Doping</tspan><tspan x="896.3" textLength="136.8" lengthAdjust="spacingAndGlyphs"> (17%)</tspan></text>
</g>
</svg></body></html>
